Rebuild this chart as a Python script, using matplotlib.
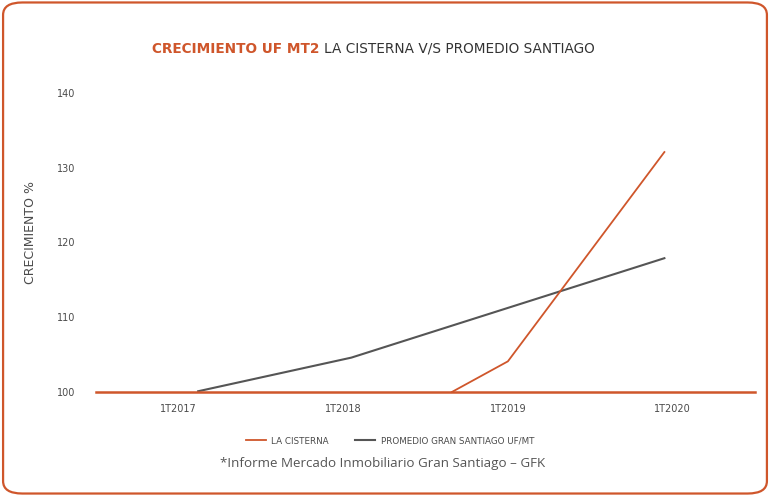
import matplotlib
matplotlib.use("Agg")
import matplotlib.pyplot as plt
from matplotlib.patches import FancyBboxPatch
from matplotlib import font_manager

# ---------------------------------------------------------------------------
# Data
# ---------------------------------------------------------------------------
tick_years = [2017, 2018, 2019, 2020]
tick_labels = ["1T2017", "1T2018", "1T2019", "1T2020"]

cisterna_x = [2018.66, 2019.0, 2019.95]
cisterna_y = [100.0, 104.1, 132.1]

santiago_x = [2017.12, 2018.05, 2019.95]
santiago_y = [100.1, 104.6, 117.9]

y_ticks = [100, 110, 120, 130, 140]

ORANGE = "#cf562b"
GREY_LINE = "#555555"
GREY_TEXT = "#4a4a4a"

# condensed font if installed, otherwise DejaVu
names = {f.name for f in font_manager.fontManager.ttflist}
COND = "Liberation Sans Narrow" if "Liberation Sans Narrow" in names else "DejaVu Sans"

fig = plt.figure(figsize=(7.7, 4.96), dpi=100)

# rounded orange frame round the whole picture
frame = FancyBboxPatch((0.004, 0.005), 0.992, 0.99,
                       boxstyle="round,pad=0,rounding_size=0.025",
                       transform=fig.transFigure, facecolor="none",
                       edgecolor=ORANGE, linewidth=1.6, zorder=-1)
fig.patches.append(frame)

ax = fig.add_axes([96 / 770, 1 - 392 / 496, (755 - 96) / 770, (392 - 93) / 496])
ax.set_facecolor("none")

ax.plot(santiago_x, santiago_y, color=GREY_LINE, lw=1.5,
        label="PROMEDIO GRAN SANTIAGO UF/MT", clip_on=False, zorder=3)
ax.plot(cisterna_x, cisterna_y, color=ORANGE, lw=1.3,
        label="LA CISTERNA", clip_on=False, zorder=3)

ax.set_xlim(2016.5, 2020.5)
ax.set_ylim(100, 140)
ax.set_xticks(tick_years)
ax.set_xticklabels(tick_labels)
ax.set_yticks(y_ticks)

for side in ["top", "right", "left"]:
    ax.spines[side].set_visible(False)
ax.spines["bottom"].set_color(ORANGE)
ax.spines["bottom"].set_linewidth(1.8)
ax.spines["bottom"].set_zorder(4)

ax.tick_params(axis="both", length=0, labelsize=7, labelcolor=GREY_TEXT)
ax.tick_params(axis="y", pad=15)
ax.tick_params(axis="x", pad=9)
for lab in ax.get_xticklabels() + ax.get_yticklabels():
    lab.set_fontfamily(COND)

fig.text(30 / 770, 1 - 232 / 496, "CRECIMIENTO %", rotation=90,
         ha="center", va="center", fontsize=9, color=GREY_TEXT,
         family=COND)

# title in two parts: bold orange then plain grey
t1 = fig.text(152 / 770, 1 - 49 / 496, "CRECIMIENTO UF MT2 ", ha="left",
              va="center", fontsize=9.8, fontweight="bold", color=ORANGE,
              family=COND)
fig.canvas.draw()
bb = t1.get_window_extent()
fig.text(bb.x1 / fig.bbox.width, 1 - 49 / 496,
         "LA CISTERNA V/S PROMEDIO SANTIAGO", ha="left", va="center",
         fontsize=9.8, color="#333333", family=COND)

# legend
handles, labels = ax.get_legend_handles_labels()
leg = fig.legend(handles[::-1], labels[::-1], loc="center",
                 bbox_to_anchor=(390 / 770, 1 - 441 / 496), ncol=2,
                 frameon=False, fontsize=6.3, handlelength=2.3,
                 columnspacing=3.0, handletextpad=0.6)
for txt in leg.get_texts():
    txt.set_color(GREY_TEXT)
    txt.set_fontfamily(COND)

fig.text(383 / 770, 1 - 464 / 496,
         "*Informe Mercado Inmobiliario Gran Santiago \u2013 GFK",
         ha="center", va="center", fontsize=9.6, color="#555555",
         family="Open Sans")

fig.savefig("out.png", dpi=100)
